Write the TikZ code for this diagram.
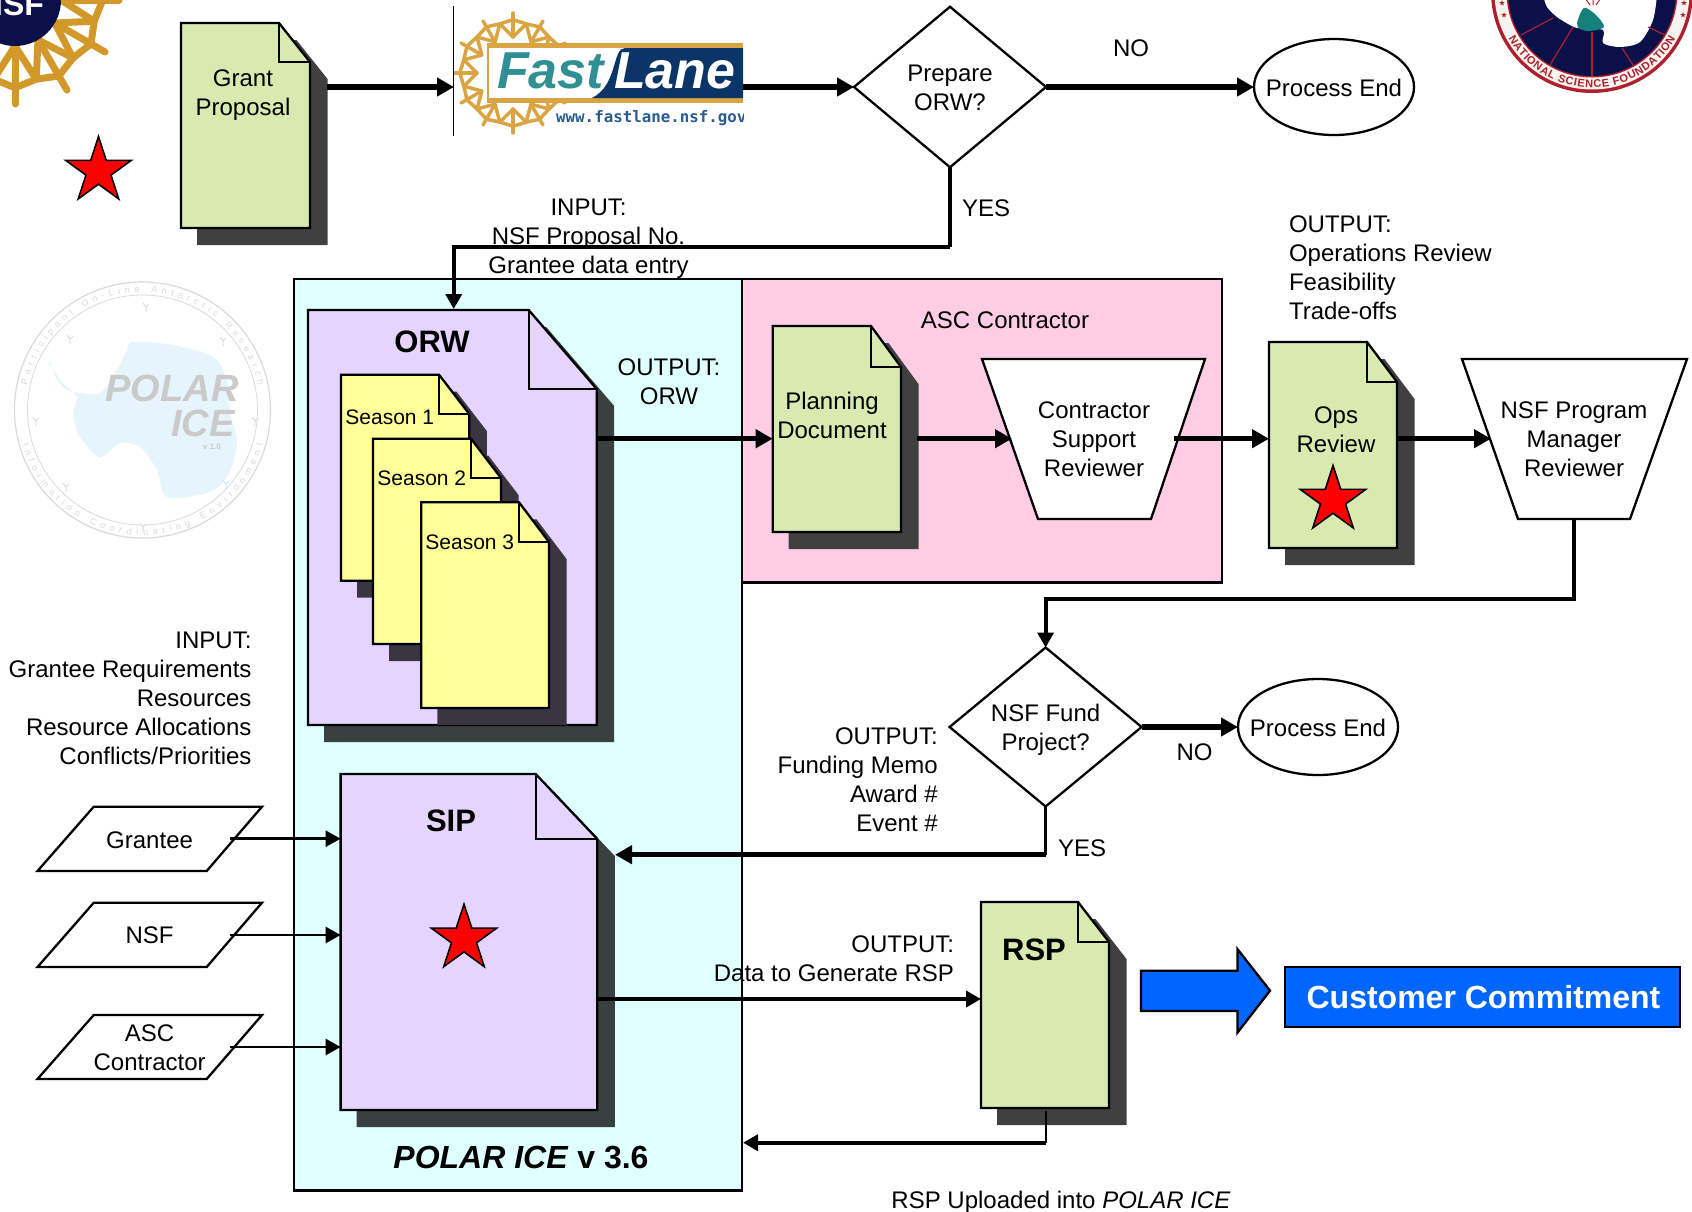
\documentclass[tikz,border=0pt]{standalone}
\usepackage{fontspec}
\setmainfont{Liberation Sans}
\newfontfamily\monof{DejaVu Sans Mono}
\usetikzlibrary{arrows.meta,shapes.geometric,fit,decorations.text,calc}
\definecolor{iceblue}{HTML}{E0FFFF}
\definecolor{pinkbox}{HTML}{FFCCE6}
\definecolor{lilac}{HTML}{E5D5FE}
\definecolor{leaf}{HTML}{D9EAB0}
\definecolor{butter}{HTML}{FFFF99}
\definecolor{shgrey}{HTML}{404040}
\definecolor{shteal}{HTML}{3A4040}
\definecolor{shplum}{HTML}{3A3540}
\definecolor{royal}{HTML}{0066FF}
\definecolor{gold}{HTML}{D9A441}
\definecolor{nsfgold}{HTML}{D2982A}
\definecolor{flnavy}{HTML}{0A3566}
\definecolor{flteal}{HTML}{2F8F93}
\definecolor{flblue}{HTML}{2A5C8F}
\definecolor{sealred}{HTML}{AE2030}
\definecolor{sealnavy}{HTML}{0C1048}
\definecolor{sealcream}{HTML}{FBF4EE}
\definecolor{sealteal}{HTML}{16807A}
\definecolor{wmgrey}{HTML}{DADADA}
\definecolor{wmtext}{HTML}{CACACA}
\definecolor{wmblue}{HTML}{E6F4FB}
\definecolor{wmbird}{HTML}{D8DCF2}
\tikzset{
  lbl/.style={font=\fontsize{24}{29}\selectfont,align=center,inner sep=0pt,outer sep=0pt},
  lblr/.style={lbl,align=right,anchor=east},
  lbll/.style={lbl,align=left,anchor=west},
  seasontxt/.style={font=\fontsize{21}{25}\selectfont,inner sep=0pt,anchor=west},
  titletxt/.style={font=\fontsize{31}{36}\selectfont\bfseries,inner sep=0pt},
  docline/.style={draw=black,line width=2.3pt,line join=miter},
  docfit/.style={inner sep=0pt,outer sep=0pt,lbl},
  panel/.style={draw=black,line width=2.3pt},
  thickarrow/.style={line width=5.5pt,-{Triangle[length=17pt,width=18pt]}},
  midarrow/.style={line width=4pt,-{Triangle[length=15pt,width=16pt]}},
  thinarrow/.style={line width=2.6pt,-{Triangle[length=15pt,width=16pt]}},
  redstar/.style={star,star points=5,star point ratio=2.618,draw=black,fill=red,line width=1.6pt,inner sep=0pt,minimum size=69pt},
  tinystar/.style={star,star points=5,star point ratio=2.618,fill=sealred,inner sep=0pt,minimum size=6pt},
  decisionbox/.style={diamond,draw=black,line width=2.3pt,inner sep=0pt,outer sep=0pt},
  endbox/.style={ellipse,draw=black,line width=2.3pt,inner sep=0pt,outer sep=0pt},
}
% name x1 y1 x2 y2 foldx foldy fill shadow
\newcommand\docpage[9]{%
  \fill[#9] ({#2+16},{#3+17}) -- ({#6+17.5},{#3+17}) -- ({#4+17.5},{#7+17}) -- ({#4+17.5},{#5+17}) -- ({#2+16},{#5+17}) -- cycle;
  \draw[docline,fill=#8] (#2,#3) -- (#6,#3) -- (#4,#7) -- (#4,#5) -- (#2,#5) -- cycle;
  \draw[docline] (#6,#3) -- (#6,#7) -- (#4,#7);
  \node[docfit,fit={(#2,#3)(#4,#5)}] (#1) {};
}
% cx cy rinner router colour width
\newcommand\sunwheel[6]{%
  \foreach \a in {0,30,...,330}{
    \draw[#5,line width=#6pt,line cap=round] (#1,#2) ++(\a:#3) -- ++(\a:{#4-#3});
    \draw[#5,line width=#6pt,line cap=round] (#1,#2) ++(\a:#3) -- ($(#1,#2)+({\a+15}:{#3+(#4-#3)*0.62})$);
    \draw[#5,line width=#6pt,line cap=round] (#1,#2) ++({\a+30}:#3) -- ($(#1,#2)+({\a+15}:{#3+(#4-#3)*0.62})$);
    \draw[#5,line width=#6pt,line cap=round] ($(#1,#2)+({\a+15}:{#3+(#4-#3)*0.62})$) -- ($(#1,#2)+({\a}:{#3+(#4-#3)*0.72})$);
    \draw[#5,line width=#6pt,line cap=round] ($(#1,#2)+({\a+15}:{#3+(#4-#3)*0.62})$) -- ($(#1,#2)+({\a+30}:{#3+(#4-#3)*0.72})$);
  }
}
\begin{document}
\begin{tikzpicture}[x=1pt,y=-1pt]
\useasboundingbox (0,0) rectangle (1692,1211);

% --- NSF logo, top left
\begin{scope}
  \clip (0,0) rectangle (130,110);
  \sunwheel{15}{0}{46}{104}{nsfgold}{7}
  \fill[sealnavy] (15,0) circle[radius=46];
  \node[font=\fontsize{32}{32}\selectfont\bfseries,text=white,inner sep=0pt] (nsfmark) at (12,4) {NSF};
\end{scope}

% --- Polar Ice watermark
\begin{scope}
  \fill[wmblue] plot[smooth cycle] coordinates {(50,362) (57,380) (67,390) (80,393) (100,393) (117,370) (127,350) (133,342) (173,345) (213,357) (227,380) (230,413) (237,443) (227,477) (207,493) (167,497) (157,470) (140,447) (120,443) (100,457) (80,437) (73,413) (77,397) (63,383) (50,365)};
  \draw[wmgrey,line width=1.2pt] (142.5,410) circle[radius=128];
  \draw[wmgrey,line width=0.8pt] (142.5,410) circle[radius=115];
  \path[decorate,decoration={text along path,text align={fit to path},text={|\fontsize{9}{9}\selectfont\color{wmgrey}|Participant On-Line Antarctic Research}}] (142.5,410) ++(192:118) arc[start angle=192,end angle=348,radius=118];
  \path[decorate,decoration={text along path,text align={fit to path},text={|\fontsize{9}{9}\selectfont\color{wmgrey}|Information Coordinating Environment}}] (142.5,410) ++(164:125) arc[start angle=164,end angle=16,radius=125];
  \foreach \bx/\by in {143/303,67/335,220/337,33/417,252/417,63/483,223/480,140/523}{
    \draw[wmbird,line width=1pt] (\bx,\by) -- ++(3,4) -- ++(3,-3) (\bx,\by) ++(3,4) -- ++(0,5);
  }
  \node[font=\fontsize{38}{38}\selectfont\bfseries\itshape,text=wmtext,inner sep=0pt] (wmpolar) at (172,388) {POLAR};
  \node[font=\fontsize{38}{38}\selectfont\bfseries\itshape,text=wmtext,inner sep=0pt] (wmice) at (203,423) {ICE};
  \node[font=\fontsize{8}{8}\selectfont\bfseries,text=wmtext,inner sep=0pt] (wmver) at (212,447) {v 1.0};
\end{scope}

% --- NSF polar seal, top right
\begin{scope}
  \clip (1400,0) rectangle (1692,120);
  \fill[sealred] (1592,-8) circle[radius=101];
  \fill[sealcream] (1592,-8) circle[radius=97.5];
  \fill[sealred] (1592,-8) circle[radius=85.5];
  \fill[sealnavy] (1592,-8) circle[radius=84];
  \fill[white] plot[smooth] coordinates {(1543,-5) (1547,7) (1557,17) (1570,25) (1578,28) (1603,30) (1603,43) (1620,47) (1640,42) (1653,20) (1657,-5)} -- cycle;
  \fill[sealteal] plot[smooth cycle] coordinates {(1577,23) (1584,8) (1596,15) (1604,27) (1590,31) (1580,29)};
  \draw[sealred,line width=1.2pt] (1573,27) -- (1550,65);
  \draw[sealred,line width=1.2pt] (1592,32) -- (1592,76);
  \draw[sealred,line width=1.2pt] (1622,48) -- (1633,65);
  \draw[sealred,line width=1.2pt] (1648,27) -- (1665,35);
  \draw[sealred,line width=1.2pt] (1553,18) -- (1521,35);
  \draw[sealred,line width=1pt] (1590,5) -- (1585,-2) (1593,5) -- (1593,-2) (1596,5) -- (1601,-2);
  \path[decorate,decoration={text along path,text align={fit to path},text={|\fontsize{11}{12}\selectfont\bfseries\color{sealred}|NATIONAL SCIENCE FOUNDATION}}] (1592,-8) ++(151:95.5) arc[start angle=151,end angle=29,radius=95.5];
  \foreach \sx/\sy in {1502/3,1504/15,1684/3,1683/15}{
    \node[tinystar] at (\sx,\sy) {};
  }
\end{scope}

% --- FastLane logo
\begin{scope}
  \clip (454,6) rectangle (743,140);
  \sunwheel{513}{73}{36}{60}{gold}{3.5}
  \fill[gold] (487,43) rectangle (743,103);
  \fill[white] (489,48) rectangle (743,98);
  \fill[flnavy] (743,48) -- (625,48) .. controls (612,48) and (618,85) .. (592,98) -- (743,98) -- cycle;
  \node[font=\fontsize{52}{52}\selectfont\bfseries\itshape,text=flteal,inner sep=0pt,anchor=west] (flfast) at (497,71) {Fast};
  \node[font=\fontsize{52}{52}\selectfont\bfseries\itshape,text=white,inner sep=0pt,anchor=west] (fllane) at (614,71) {Lane};
  \node[font=\fontsize{15.8}{16}\monof\bfseries,text=flblue,inner sep=0pt,anchor=west] (flurl) at (556,118) {www.fastlane.nsf.gov};
\end{scope}
\draw[black,line width=1pt] (453.6,6) -- (453.6,136);
\node[docfit,fit={(454,6)(743,136)}] (fl) {};

% --- panels
\draw[panel,fill=iceblue] (294,279) rectangle (742,1190.5);
\draw[panel,fill=pinkbox] (742,279) rectangle (1222,582.5);

% --- documents
\docpage{grant}{181}{23}{310}{228}{279}{62}{leaf}{shgrey}
\node[lbl] (granttxt) at (243,95.5) {Grant\\Proposal};

\docpage{orw}{308}{310}{596.7}{725}{528.7}{389}{lilac}{shteal}
\node[titletxt] (orwtitle) at (432,341.5) {ORW};
\docpage{s1}{341}{374.7}{469.3}{580.7}{439}{414}{butter}{shplum}
\node[seasontxt] (s1txt) at (345.2,417) {Season 1};
\docpage{s2}{373}{438.7}{501}{644}{471}{478}{butter}{shplum}
\node[seasontxt] (s2txt) at (377.2,478) {Season 2};
\docpage{s3}{421.3}{502.3}{549}{708}{519}{542}{butter}{shplum}
\node[seasontxt] (s3txt) at (425.2,542) {Season 3};

\docpage{sip}{340.6}{774}{597.3}{1110}{535.7}{839}{lilac}{shteal}
\node[titletxt] (siptitle) at (451,820.7) {SIP};
\node[redstar] (sipstar) at (464,938.7) {};

\docpage{plan}{772.7}{326}{901}{532}{871}{367}{leaf}{shgrey}
\node[lbl] (plantxt) at (832,415) {Planning\\Document};
\docpage{ops}{1269}{342}{1397}{548}{1367}{382}{leaf}{shgrey}
\node[lbl] (opstxt) at (1336,430) {Ops\\Review};
\node[redstar] (opsstar) at (1333,500) {};
\docpage{rsp}{981}{902}{1109}{1108}{1078}{942}{leaf}{shgrey}
\node[titletxt] (rsptitle) at (1034,949.5) {RSP};

\node[redstar] (loosestar) at (98.5,171) {};

% --- reviewer trapezia
\draw[docline,fill=white] (982,359) -- (1205,359) -- (1151,519) -- (1038,519) -- cycle;
\node[docfit,fit={(982,359)(1205,519)}] (csr) {};
\node[lbl] (csrtxt) at (1094,439.5) {Contractor\\Support\\Reviewer};
\draw[docline,fill=white] (1462,359) -- (1687,359) -- (1630,519) -- (1518,519) -- cycle;
\node[docfit,fit={(1462,359)(1687,519)}] (pmr) {};
\node[lbl] (pmrtxt) at (1574,439.5) {NSF Program\\Manager\\Reviewer};

% --- decisions and ends
\node[decisionbox,minimum width=192pt,minimum height=160.5pt,aspect=1.2] (prep) at (950,87) {};
\node[lbl] (preptxt) at (950,88) {Prepare\\ORW?};
\node[endbox,minimum width=160pt,minimum height=96pt] (end1) at (1334,87) {};
\node[lbl] (end1txt) at (1334,87.5) {Process End};
\node[decisionbox,minimum width=192pt,minimum height=159pt,aspect=1.2] (fund) at (1045.6,727) {};
\node[lbl] (fundtxt) at (1045.6,730) {NSF Fund\\Project?};
\node[endbox,minimum width=160pt,minimum height=96pt] (end2) at (1318,727) {};
\node[lbl] (end2txt) at (1318,727.5) {Process End};

% --- input parallelograms
\draw[docline,fill=white] (93.75,806.7) -- (262,806.7) -- (206.7,871) -- (37.5,871) -- cycle;
\node[docfit,fit={(37.5,806.7)(262,871)}] (pgrantee) {};
\node[lbl] (pgranteetxt) at (149.6,840) {Grantee};
\draw[docline,fill=white] (93.75,902.7) -- (262,902.7) -- (206.7,967) -- (37.5,967) -- cycle;
\node[docfit,fit={(37.5,902.7)(262,967)}] (pnsf) {};
\node[lbl] (pnsftxt) at (149.6,935.5) {NSF};
\draw[docline,fill=white] (93.75,1015) -- (262,1015) -- (206.7,1079) -- (37.5,1079) -- cycle;
\node[docfit,fit={(37.5,1015)(262,1079)}] (pasc) {};
\node[lbl] (pasctxt) at (149.6,1048) {ASC\\Contractor};

% --- customer commitment
\draw[draw=black,line width=2.3pt,fill=royal] (1141,970.7) -- (1237.4,970.7) -- (1237.4,949) -- (1270,990.7) -- (1237.4,1032.7) -- (1237.4,1011) -- (1141,1011) -- cycle;
\node[draw=black,line width=2.3pt,fill=royal,text=white,font=\fontsize{32}{36}\selectfont\bfseries,inner sep=0pt,outer sep=0pt,minimum width=395pt,minimum height=60pt] (cust) at (1482.5,996.7) {\hspace{2pt}Customer Commitment};

% --- labels
\node[lbl] (nolbl1) at (1131,48.5) {NO};
\node[lbl] (yeslbl1) at (986,208) {YES};
\node[lbl] (inputtop) at (588.5,238.5) {INPUT:\\NSF Proposal No.\\Grantee data entry};
\node[lbll] (opsout) at (1289,268) {OUTPUT:\\Operations Review\\Feasibility\\Trade-offs};
\node[lbl] (ascl) at (1005,320.5) {ASC Contractor};
\node[lbl] (orwout) at (669,382) {OUTPUT:\\ORW};
\node[lblr] (inputleft) at (251.5,698) {INPUT:\\Grantee Requirements\\Resources\\Resource Allocations\\Conflicts/Priorities};
\node[lblr] (fundout) at (937.7,779.5) {OUTPUT:\\Funding Memo\\Award \#\\Event \#};
\node[lbl] (nolbl2) at (1194.5,752) {NO};
\node[lbl] (yeslbl2) at (1082,848) {YES};
\node[lblr] (sipout) at (954,958.5) {OUTPUT:\\Data to Generate RSP};
\node[lbl] (version) [font=\fontsize{32}{36}\selectfont\bfseries] at (521,1157.2) {\textit{POLAR ICE} v 3.6};
\node[lbl] (upload) at (1061,1202) {RSP Uploaded into \textit{POLAR ICE}};

% --- connectors
\coordinate (grantout) at (327,87);
\draw[thickarrow] (grantout) -- (grantout -| fl.west);
\draw[thickarrow] (fl.east |- prep.west) -- (prep.west);
\draw[thickarrow] (prep.east) -- (end1.west);
\coordinate (prepbend) at (950,247);
\draw[line width=4pt] (prep.south) -- (prepbend);
\draw[midarrow] (prepbend) -- (453.7,247) -- (453.7,309);
\coordinate (orwline) at (0,438.7);
\draw[thickarrow] (orw.east |- orwline) -- (plan.west |- orwline);
\coordinate (planout) at (917,438.7);
\coordinate (csrin) at (1012,438.7);
\draw[thickarrow] (planout) -- (csrin);
\coordinate (csrout) at (1174,438.7);
\draw[thickarrow] (csrout) -- (ops.west |- csrout);
\coordinate (pmrin) at (1491,438.7);
\draw[thickarrow] (ops.east |- pmrin) -- (pmrin);
\coordinate (pmrbend) at (1574,599);
\draw[midarrow] (1574,519) -- (pmrbend) -- (pmrbend -| fund.north) -- (fund.north);
\draw[thickarrow] (fund.east) -- (end2.west);
\coordinate (fundbend) at (1045.6,854.7);
\draw[line width=3pt] (fund.south) -- (fundbend);
\draw[thickarrow] (fundbend) -- (615,854.7);
\coordinate (sipline) at (0,999);
\draw[midarrow] (sip.east |- sipline) -- (rsp.west |- sipline);
\coordinate (rspdrop) at (1045.8,1111);
\coordinate (rspbend) at (1045.8,1142.7);
\draw[line width=2.6pt] (rspdrop) -- (rspbend);
\draw[midarrow] (rspbend) -- (743,1142.7);
\coordinate (g1) at (230,838.7);
\coordinate (g2) at (230,935);
\coordinate (g3) at (230,1047);
\draw[thinarrow] (g1) -- (sip.west |- g1);
\draw[thinarrow] (g2) -- (sip.west |- g2);
\draw[thinarrow] (g3) -- (sip.west |- g3);
\end{tikzpicture}
\end{document}
